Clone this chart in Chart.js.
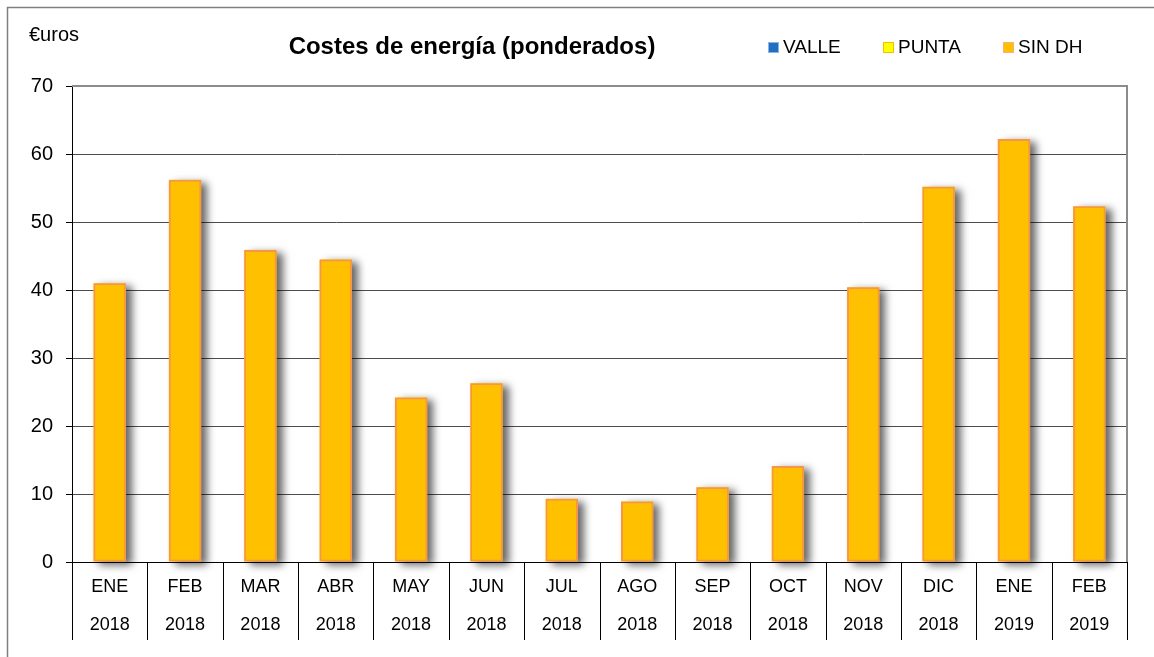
<!DOCTYPE html>
<html>
<head>
<meta charset="utf-8">
<script src="https://cdn.jsdelivr.net/npm/chart.js@4"></script>
<style>
  html, body { margin: 0; padding: 0; background: #fff; }
  #wrap { width: 1154px; height: 657px; }
</style>
</head>
<body>
<div id="wrap"><canvas id="costesChart" width="1154" height="657"></canvas></div>
<script>
// datos
var meses = ['ENE', 'FEB', 'MAR', 'ABR', 'MAY', 'JUN', 'JUL', 'AGO', 'SEP', 'OCT', 'NOV', 'DIC', 'ENE', 'FEB'];
var anios = ['2018', '2018', '2018', '2018', '2018', '2018', '2018', '2018', '2018', '2018', '2018', '2018', '2019', '2019'];
var valle = [null, null, null, null, null, null, null, null, null, null, null, null, null, null];
var punta = [null, null, null, null, null, null, null, null, null, null, null, null, null, null];
var sinDH = [41.0, 56.2, 45.9, 44.5, 24.2, 26.3, 9.3, 8.9, 11.0, 14.1, 40.4, 55.2, 62.2, 52.3];
var yTicks = [0, 10, 20, 30, 40, 50, 60, 70];

var FONT = '"Liberation Sans", Arial, sans-serif';

var labels = meses.map(function (m, i) { return [m, anios[i]]; });

// sombra a la derecha de las barras, como en Excel
// (se pinta antes que las barras porque el borde de Chart.js recorta la sombra)
var sombraBarras = {
  id: 'sombraBarras',
  beforeDatasetsDraw: function (chart) {
    var ctx = chart.ctx;
    ctx.save();
    ctx.shadowColor = 'rgba(0,0,0,0.6)';
    ctx.shadowBlur = 8;
    ctx.shadowOffsetX = 6;
    ctx.shadowOffsetY = 3;
    ctx.fillStyle = '#ffc000';
    chart.data.datasets.forEach(function (ds, k) {
      var meta = chart.getDatasetMeta(k);
      meta.data.forEach(function (bar) {
        var p = bar.getProps(['x', 'y', 'base', 'width']);
        if (p.y == null || isNaN(p.y) || p.base === p.y) return;
        ctx.fillRect(p.x - p.width / 2, p.y, p.width, p.base - p.y);
      });
    });
    ctx.restore();
  }
};

// marco, titulo, leyenda y tabla de etiquetas
var decorado = {
  id: 'decorado',
  afterDraw: function (chart) {
    var ctx = chart.ctx;
    var area = chart.chartArea;
    var n = chart.data.labels.length;
    var paso = (area.right - area.left) / n;

    ctx.save();
    // borde exterior
    ctx.strokeStyle = '#7f7f7f';
    ctx.lineWidth = 1.5;
    ctx.beginPath();
    ctx.moveTo(7.5, 657);
    ctx.lineTo(7.5, 7.5);
    ctx.lineTo(1154, 7.5);
    ctx.stroke();

    // borde del area de trazado (arriba y derecha)
    ctx.strokeStyle = '#8c8c8c';
    ctx.lineWidth = 2;
    ctx.beginPath();
    ctx.moveTo(area.left, area.top);
    ctx.lineTo(area.right, area.top);
    ctx.lineTo(area.right, area.bottom);
    ctx.stroke();

    // separadores de la tabla de categorias
    ctx.strokeStyle = '#000';
    ctx.lineWidth = 1;
    for (var i = 0; i <= n; i++) {
      var x = Math.round(area.left + i * paso) + 0.5;
      ctx.beginPath();
      ctx.moveTo(x, area.bottom);
      ctx.lineTo(x, 640);
      ctx.stroke();
    }

    // titulo
    ctx.fillStyle = '#000';
    ctx.textBaseline = 'middle';
    ctx.textAlign = 'center';
    ctx.font = 'bold 24px ' + FONT;
    ctx.fillText('Costes de energía (ponderados)', 472, 47);

    // unidad
    ctx.textAlign = 'left';
    ctx.font = '20px ' + FONT;
    ctx.fillText('€uros', 29, 35);

    // leyenda
    var posLeyenda = [768, 883, 1003];
    chart.data.datasets.forEach(function (ds, k) {
      var lx = posLeyenda[k];
      ctx.fillStyle = ds.backgroundColor;
      ctx.fillRect(lx, 42, 11, 11);
      ctx.strokeStyle = ds.legendBorder;
      ctx.lineWidth = 1;
      ctx.strokeRect(lx + 0.5, 42.5, 10, 10);
      ctx.fillStyle = '#000';
      ctx.font = '19px ' + FONT;
      ctx.fillText(ds.label, lx + 15, 48);
    });
    ctx.restore();
  }
};

var ctx = document.getElementById('costesChart').getContext('2d');
var chart = new Chart(ctx, {
  type: 'bar',
  data: {
    labels: labels,
    datasets: [
      { label: 'VALLE', data: valle, backgroundColor: '#1f6fc4', borderColor: '#6e9fd8', legendBorder: '#8fb4e0', borderWidth: 1 },
      { label: 'PUNTA', data: punta, backgroundColor: '#ffff00', borderColor: '#f2c200', legendBorder: '#f2c200', borderWidth: 1 },
      { label: 'SIN DH', data: sinDH, backgroundColor: '#ffc000', borderColor: '#f79646', legendBorder: '#f9b07a', borderWidth: 2, borderSkipped: false }
    ]
  },
  options: {
    responsive: false,
    animation: false,
    layout: { padding: { left: 0, right: 27, top: 86, bottom: 0 } },
    plugins: {
      legend: { display: false },
      title: { display: false },
      tooltip: { enabled: false }
    },
    datasets: {
      bar: { categoryPercentage: 1, barPercentage: 0.43 }
    },
    scales: {
      x: {
        stacked: true,
        grid: { display: false, drawTicks: false },
        border: { display: true, color: '#000', width: 1 },
        ticks: {
          color: '#000',
          padding: 6,
          maxRotation: 0,
          autoSkip: false,
          font: { family: FONT, size: 18, lineHeight: 38 / 18 }
        },
        afterFit: function (scale) { scale.height = 95; }
      },
      y: {
        stacked: true,
        min: 0,
        max: 70,
        afterBuildTicks: function (scale) {
          scale.ticks = yTicks.map(function (v) { return { value: v }; });
        },
        grid: { color: '#4d4d4d', lineWidth: 1, drawTicks: true, tickLength: 6, tickColor: '#000' },
        border: { display: true, color: '#000', width: 1 },
        ticks: {
          color: '#000',
          padding: 13,
          font: { family: FONT, size: 20 }
        },
        afterFit: function (scale) { scale.width = 72; }
      }
    }
  },
  plugins: [sombraBarras, decorado]
});
</script>
</body>
</html>
